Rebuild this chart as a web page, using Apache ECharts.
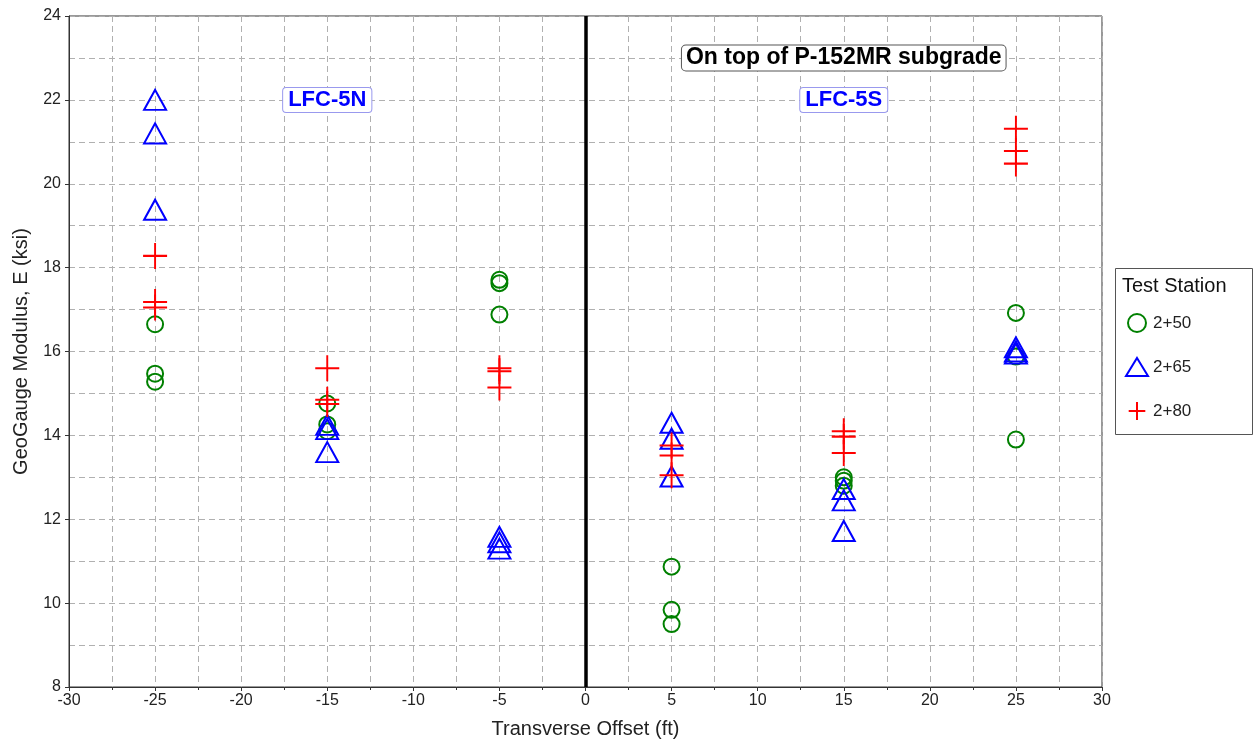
<!DOCTYPE html>
<html><head><meta charset="utf-8">
<script src="https://cdn.jsdelivr.net/npm/echarts@6/dist/echarts.min.js"></script>
<style>html,body{margin:0;padding:0;background:#fff}#c{width:1257px;height:744px}</style>
</head><body><div id="c"></div>
<script>
const seriesNames = ['2+50', '2+65', '2+80'];
// [offset, modulus]
const sta250 = [[-25,16.65],[-25,15.47],[-25,15.28],[-15,14.76],[-15,14.26],[-15,14.1],[-5,17.71],[-5,17.63],[-5,16.88],[5,10.87],[5,9.84],[5,9.5],[15,13.0],[15,12.92],[15,12.8],[25,16.92],[25,15.88],[25,13.9]];
const sta265 = [[-25,22.0],[-25,21.2],[-25,19.38],[-15,14.25],[-15,14.15],[-15,13.6],[-5,11.58],[-5,11.45],[-5,11.3],[5,14.3],[5,13.92],[5,13.02],[15,12.72],[15,12.45],[15,11.72],[25,16.1],[25,16.0],[25,15.95]];
const sta280 = [[-25,18.28],[-25,17.18],[-25,17.05],[-15,15.6],[-15,14.85],[-15,14.75],[-5,15.6],[-5,15.53],[-5,15.14],[5,13.76],[5,13.52],[5,13.05],[15,14.1],[15,13.97],[15,13.58],[25,21.31],[25,20.78],[25,20.48]];
const groupLabels = [[-15,22,'LFC-5N'],[15,22,'LFC-5S']];
const noteLabel = [[15,23,'On top of P-152MR subgrade']];
const xTicks = [-30,-25,-20,-15,-10,-5,0,5,10,15,20,25,30];
const yTicks = [8,10,12,14,16,18,20,22,24];

const FONT = 'Liberation Sans, Arial, sans-serif';
const chart = echarts.init(document.getElementById('c'));
const sym = {
  '2+50': {symbol:'circle', size:16, color:'#008000'},
  '2+65': {symbol:'triangle', size:[22,20], color:'#0000ff'},
  '2+80': {symbol:'path://M12,0L12,26M0,13L24,13', size:[24,26], color:'#ff0000'}
};
const datas = [sta250, sta265, sta280];
const series = seriesNames.map((n,i)=>({
  name:n, type:'scatter', data:datas[i], symbol:sym[n].symbol, symbolSize:sym[n].size,
  itemStyle:{color:'rgba(0,0,0,0)', borderColor:sym[n].color, borderWidth:2, opacity:1},
  z: 3
}));
series[0].markLine = {silent:true, symbol:'none', label:{show:false},
  lineStyle:{color:'#000', width:3.5, type:'solid'}, data:[{xAxis:0}]};
series.push({
  name:'labels', type:'scatter', symbolSize:0, silent:true, z:5,
  itemStyle:{opacity:1},
  data:groupLabels.map(d=>({value:[d[0],d[1]], name:d[2]})),
  label:{show:true, position:'inside', formatter:p=>p.name, color:'#0000ff', fontWeight:'bold',
    fontFamily:FONT, fontSize:22, backgroundColor:'#fff', borderColor:'#9999ee', borderWidth:1,
    borderRadius:3, padding:[2,5,0,5]}
});
series.push({
  name:'note', type:'scatter', symbolSize:0, silent:true, z:5,
  itemStyle:{opacity:1},
  data:noteLabel.map(d=>({value:[d[0],d[1]], name:d[2]})),
  label:{show:true, position:'inside', formatter:p=>p.name, color:'#000', fontWeight:'bold',
    fontFamily:FONT, fontSize:23, backgroundColor:'#fff', borderColor:'#555', borderWidth:1,
    borderRadius:4, padding:[2,4,0,4]}
});
const dash = {color:'#b0b0b0', type:[6,4], width:1};
chart.setOption({
  animation:false,
  textStyle:{fontFamily:FONT},
  grid:{left:69, right:155, top:16, bottom:56, show:true, borderColor:'#333', borderWidth:1},
  xAxis:{type:'value', min:-30, max:30, interval:5,
    name:'Transverse Offset (ft)', nameLocation:'middle', nameGap:32,
    nameTextStyle:{fontSize:20, color:'#222', fontFamily:FONT},
    axisLine:{show:true, onZero:false, lineStyle:{color:'#333'}},
    axisTick:{show:true, length:4, inside:false, lineStyle:{color:'#333'}},
    minorTick:{show:true, splitNumber:2, length:3, lineStyle:{color:'#333'}},
    axisLabel:{fontSize:16, color:'#222', margin:6, fontFamily:FONT},
    splitLine:{show:true, lineStyle:dash},
    minorSplitLine:{show:true, lineStyle:dash}
  },
  yAxis:{type:'value', min:8, max:24, interval:2,
    name:'GeoGauge Modulus, E (ksi)', nameLocation:'middle', nameGap:38,
    nameTextStyle:{fontSize:20, color:'#222', fontFamily:FONT},
    axisLine:{show:true, onZero:false, lineStyle:{color:'#333'}},
    axisTick:{show:true, length:4, lineStyle:{color:'#333'}},
    minorTick:{show:false, splitNumber:2},
    axisLabel:{fontSize:16, color:'#222', margin:8, fontFamily:FONT},
    splitLine:{show:true, lineStyle:dash},
    minorSplitLine:{show:true, lineStyle:dash},
  },
  legend:{show:true, data:seriesNames, orient:'vertical', left:1120, top:308,
    itemWidth:22, itemHeight:18, itemGap:24, textStyle:{fontSize:17, color:'#222', fontFamily:FONT},
    itemStyle:{borderWidth:2}},
  graphic:[
    {type:'rect', left:1115, top:268, shape:{width:137, height:166}, style:{fill:'#fff', stroke:'#555', lineWidth:1}, z:-1},
    {type:'text', left:1122, top:276, style:{text:'Test Station', fontSize:20, fill:'#111', fontFamily:FONT}}
  ],
  series:series
});
</script></body></html>
